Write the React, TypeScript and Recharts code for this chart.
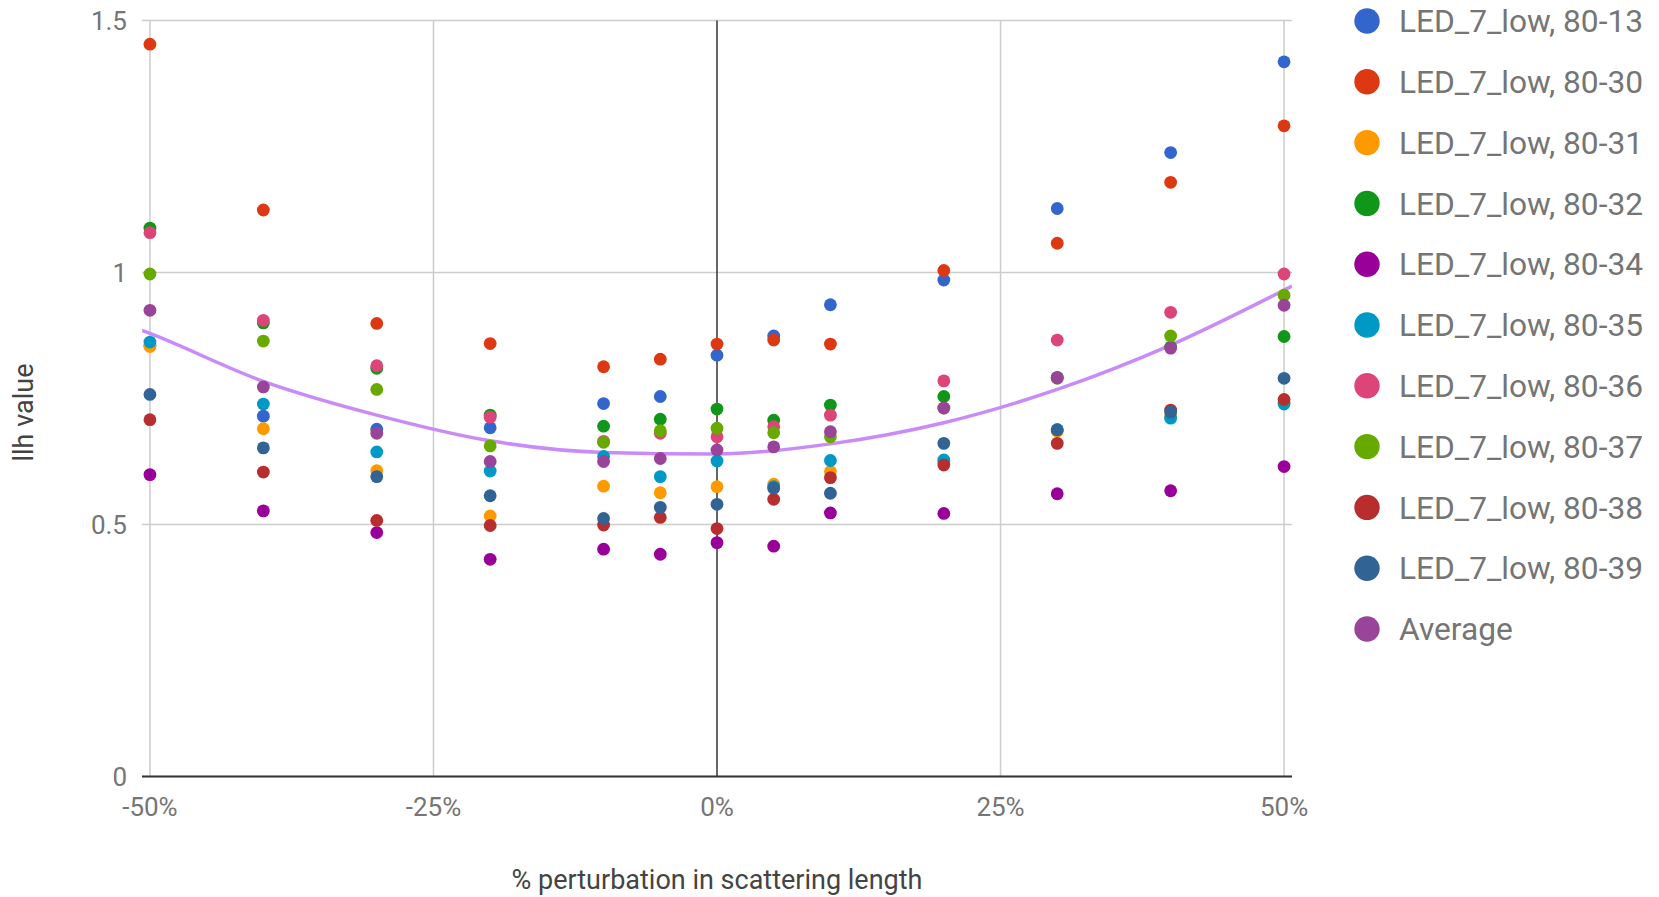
import React from 'react';
import { CartesianGrid, ComposedChart, Label, Line, ReferenceLine, Scatter, XAxis, YAxis } from 'recharts';

// % perturbation in scattering length
const perturbation = [-50, -40, -30, -20, -10, -5, 0, 5, 10, 20, 30, 40, 50];

// llh value per LED at each perturbation
const led13 = [0.855, 0.715, 0.689, 0.692, 0.74, 0.754, 0.836, 0.874, 0.936, 0.985, 1.127, 1.238, 1.418];
const led30 = [1.453, 1.124, 0.899, 0.859, 0.813, 0.828, 0.858, 0.866, 0.858, 1.004, 1.058, 1.179, 1.291];
const led31 = [0.853, 0.69, 0.607, 0.517, 0.576, 0.563, 0.575, 0.58, 0.605, 0.625, 0.685, 0.715, 0.742];
const led32 = [1.088, 0.9, 0.81, 0.717, 0.695, 0.709, 0.729, 0.707, 0.737, 0.754, 0.792, 0.852, 0.873];
const led34 = [0.599, 0.527, 0.484, 0.431, 0.451, 0.441, 0.464, 0.457, 0.523, 0.522, 0.561, 0.567, 0.615];
const led35 = [0.862, 0.739, 0.644, 0.606, 0.635, 0.595, 0.626, 0.575, 0.627, 0.628, 0.688, 0.711, 0.739];
const led36 = [1.079, 0.905, 0.815, 0.713, 0.665, 0.681, 0.674, 0.694, 0.717, 0.785, 0.866, 0.921, 0.997];
const led37 = [0.997, 0.864, 0.768, 0.656, 0.663, 0.686, 0.691, 0.682, 0.674, 0.731, 0.79, 0.874, 0.955];
const led38 = [0.708, 0.604, 0.508, 0.498, 0.499, 0.514, 0.492, 0.55, 0.593, 0.618, 0.661, 0.727, 0.748];
const led39 = [0.758, 0.652, 0.595, 0.557, 0.512, 0.534, 0.54, 0.572, 0.562, 0.661, 0.688, 0.723, 0.79];
const average = [0.925, 0.773, 0.681, 0.625, 0.625, 0.631, 0.648, 0.654, 0.684, 0.731, 0.791, 0.85, 0.935];

// trendline through the average, read across the whole plot width
const trendX = [-50.7, -50, -40, -30, -20, -10, 0, 10, 20, 30, 40, 50, 50.7];
const trendY = [0.885, 0.879, 0.784, 0.717, 0.666, 0.643, 0.64, 0.66, 0.702, 0.768, 0.856, 0.965, 0.973];

const xTicks = [-50, -25, 0, 25, 50];
const yTicks = [0, 0.5, 1, 1.5];

const series = [
  { name: 'LED_7_low, 80-13', color: '#3366cc', values: led13 },
  { name: 'LED_7_low, 80-30', color: '#dc3912', values: led30 },
  { name: 'LED_7_low, 80-31', color: '#ff9900', values: led31 },
  { name: 'LED_7_low, 80-32', color: '#109618', values: led32 },
  { name: 'LED_7_low, 80-34', color: '#990099', values: led34 },
  { name: 'LED_7_low, 80-35', color: '#0099c6', values: led35 },
  { name: 'LED_7_low, 80-36', color: '#dd4477', values: led36 },
  { name: 'LED_7_low, 80-37', color: '#66aa00', values: led37 },
  { name: 'LED_7_low, 80-38', color: '#b82e2e', values: led38 },
  { name: 'LED_7_low, 80-39', color: '#316395', values: led39 },
  { name: 'Average', color: '#994499', values: average },
];

const trend = trendX.map((x, i) => ({ x, y: trendY[i] }));

const FONT = 'Roboto, Arial, sans-serif';
const TICK_STYLE = { fill: '#757575', fontSize: 26, fontFamily: FONT };

const makeDot = (color: string) => (props: any) => {
  if (props.cx == null || props.cy == null) return null;
  return <circle cx={props.cx} cy={props.cy} r={6.4} fill={color} />;
};

const YTitle = (props: any) => {
  const { viewBox } = props;
  const x = viewBox.x + 23;
  const y = viewBox.y + viewBox.height / 2 + 14;
  return (
    <text
      x={x}
      y={y}
      transform={`rotate(-90 ${x} ${y})`}
      textAnchor="middle"
      dy="0.355em"
      fill="#444"
      fontSize={27}
      fontFamily={FONT}
    >
      llh value
    </text>
  );
};

const SideLegend = () => (
  <svg width={309} height={660} style={{ position: 'absolute', left: 1350, top: 0 }}>
    {series.map((s, i) => {
      const cy = 21 + i * 60.8;
      return (
        <g key={s.name}>
          <circle cx={17} cy={cy} r={12.7} fill={s.color} />
          <text x={49} y={cy} dy="0.355em" fill="#757575" fontSize={31.7} fontFamily={FONT}>
            {s.name}
          </text>
        </g>
      );
    })}
  </svg>
);

const App = () => {
  return (
    <div style={{ position: 'absolute', left: 0, top: 0, width: 1659, height: 897, background: '#fff' }}>
      <ComposedChart width={1659} height={897} margin={{ top: 20.5, right: 367, bottom: 0, left: 0 }}>
        <CartesianGrid stroke="#cccccc" strokeWidth={1.5} vertical={false} />
        {xTicks.map((t) => (
          <ReferenceLine key={t} x={t} stroke={t === 0 ? '#333' : '#cccccc'} strokeWidth={1.5} />
        ))}
        <XAxis
          type="number"
          dataKey="x"
          domain={[-50.7, 50.7]}
          ticks={xTicks}
          tickFormatter={(v) => `${v}%`}
          height={120.5}
          axisLine={false}
          tickLine={false}
          tickSize={0}
          tickMargin={21}
          tick={TICK_STYLE}
          allowDataOverflow
        >
          <Label
            value="% perturbation in scattering length"
            position="insideTop"
            offset={93}
            fill="#444"
            fontSize={27}
            fontFamily={FONT}
          />
        </XAxis>
        <YAxis
          type="number"
          dataKey="y"
          domain={[0, 1.5]}
          ticks={yTicks}
          width={142}
          axisLine={false}
          tickLine={false}
          tickSize={0}
          tickMargin={15}
          tick={TICK_STYLE}
        >
          <Label content={<YTitle />} />
        </YAxis>
        <ReferenceLine y={0} stroke="#333" strokeWidth={2} />
        <Line
          data={trend}
          dataKey="y"
          type="monotone"
          stroke="#c98bf8"
          strokeWidth={3.5}
          dot={false}
          activeDot={false}
          isAnimationActive={false}
        />
        {series.map((s) => (
          <Scatter
            key={s.name}
            name={s.name}
            data={perturbation.map((x, i) => ({ x, y: s.values[i] }))}
            fill={s.color}
            shape={makeDot(s.color)}
            isAnimationActive={false}
          />
        ))}
      </ComposedChart>
      <SideLegend />
    </div>
  );
};

export default App;
